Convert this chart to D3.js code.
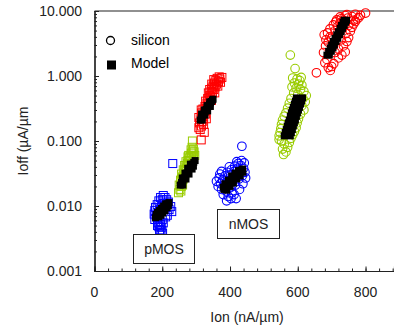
<!DOCTYPE html>
<html><head><meta charset="utf-8">
<script src="https://cdn.jsdelivr.net/npm/d3@7"></script>
<style>body{margin:0;background:#fff}svg{display:block;font-family:"Liberation Sans",Arial,sans-serif}</style>
</head><body><svg id="c" width="394" height="329"></svg>
<script>
// Tick values
const xTicks = [0, 200, 400, 600, 800];
const yTicks = [0.001, 0.01, 0.1, 1, 10];
const legendLabels = ["silicon", "Model"];
const groupLabels = ["pMOS", "nMOS"];

// pMOS silicon (squares) [Ion, Ioff]
const pBlueSi = [[176,0.0075],[178,0.0085],[180,0.0095],[183,0.0068],[185,0.0105],[188,0.0078],[190,0.012],[192,0.0088],[195,0.0135],[198,0.0098],[200,0.0125],[203,0.0145],[205,0.011],[208,0.0135],[210,0.0095],[213,0.0125],[215,0.0105],[218,0.0115],[220,0.0088],[225,0.0098],[228,0.0082],[215,0.0072],[210,0.0068],[200,0.0062],[193,0.0058],[186,0.0062],[182,0.0072],[188,0.0055],[195,0.0052],[190,0.0048],[197,0.0047],[192,0.0043],[199,0.0042],[194,0.0039],[201,0.0038],[186,0.005],[203,0.0055],[178,0.0062],[231,0.045]];
const pGreenSi = [[248,0.016],[252,0.018],[250,0.021],[256,0.02],[254,0.025],[258,0.023],[260,0.028],[262,0.026],[257,0.031],[264,0.032],[266,0.03],[262,0.036],[268,0.035],[270,0.04],[266,0.042],[272,0.038],[274,0.045],[270,0.048],[276,0.05],[278,0.044],[280,0.055],[282,0.05],[278,0.06],[284,0.058],[286,0.065],[288,0.06],[290,0.07],[292,0.075],[288,0.08],[294,0.068],[289,0.1],[285,0.073],[276,0.057],[255,0.017],[260,0.021],[296,0.06],[292,0.058]];
const pRedSi = [[308,0.16],[312,0.15],[316,0.17],[310,0.19],[318,0.2],[314,0.22],[320,0.24],[308,0.23],[322,0.18],[316,0.27],[324,0.28],[320,0.31],[328,0.26],[326,0.34],[330,0.32],[332,0.38],[328,0.41],[336,0.36],[334,0.45],[338,0.43],[340,0.5],[336,0.55],[342,0.48],[344,0.58],[340,0.62],[346,0.65],[348,0.55],[350,0.7],[346,0.75],[352,0.62],[354,0.78],[356,0.68],[358,0.85],[352,0.88],[360,0.75],[362,0.92],[366,0.82],[364,0.7],[370,0.9],[372,0.8],[376,0.95],[368,0.97],[345,0.42],[355,0.55],[322,0.22],[330,0.22],[315,0.3],[324,0.136],[315,0.104]];

// nMOS silicon (circles)
const nBlueSi = [[360,0.024],[365,0.02],[368,0.027],[372,0.022],[375,0.018],[370,0.031],[378,0.025],[380,0.015],[383,0.02],[385,0.029],[388,0.017],[390,0.023],[392,0.033],[395,0.014],[397,0.026],[400,0.019],[402,0.03],[404,0.036],[406,0.016],[408,0.024],[410,0.028],[412,0.034],[414,0.041],[416,0.021],[418,0.013],[420,0.03],[422,0.038],[424,0.045],[426,0.026],[428,0.018],[430,0.035],[432,0.042],[434,0.05],[436,0.029],[438,0.022],[440,0.038],[442,0.046],[444,0.033],[435,0.083],[398,0.04],[375,0.034],[412,0.015],[446,0.027],[420,0.048],[390,0.012],[403,0.013]];
const nGreenSi = [[578,2.1],[592,1.3],[585,0.93],[598,0.9],[606,0.85],[590,0.78],[602,0.75],[612,0.72],[595,0.65],[608,0.62],[618,0.58],[588,0.55],[600,0.52],[625,0.5],[615,0.45],[580,0.45],[622,0.4],[575,0.38],[612,0.35],[570,0.32],[618,0.3],[565,0.27],[608,0.26],[560,0.24],[602,0.22],[555,0.21],[598,0.19],[552,0.18],[595,0.16],[550,0.155],[590,0.14],[548,0.135],[585,0.125],[545,0.12],[580,0.11],[552,0.1],[575,0.095],[560,0.09],[570,0.08],[555,0.075],[565,0.068],[558,0.062],[545,0.105],[610,0.95],[583,0.68]];
const nRedSi = [[655,1.12],[696,1.22],[706,1.55],[690,1.35],[700,1.4],[680,1.6],[686,1.8],[740,2.35],[730,2.1],[676,2.3],[720,2.6],[735,2.9],[682,2.9],[745,3.4],[690,3.3],[728,3.6],[750,3.9],[700,3.8],[678,4.3],[688,4.6],[742,4.5],[755,4.9],[710,5.0],[695,5.3],[760,5.6],[718,5.8],[705,6.1],[765,6.3],[725,6.5],[770,6.9],[712,6.8],[735,7.2],[775,7.5],[748,7.8],[728,7.6],[760,8.2],[740,8.5],[785,8.6],[770,8.9],[800,9.3],[715,7.3],[695,4.0],[750,6.0],[730,5.2],[765,7.2],[780,7.9],[705,2.9],[745,8.8],[725,8.1],[683,3.6],[720,1.9],[710,2.3]];

// Model (filled black squares)
const pBlueModel = [[180,0.0066],[184,0.0070],[188,0.0074],[192,0.0078],[196,0.0083],[200,0.0088],[204,0.0093],[208,0.0098],[212,0.0103],[216,0.0108],[220,0.0113],[186,0.0080],[192,0.0086],[198,0.0092],[204,0.0100],[210,0.0108],[190,0.0068],[196,0.0072],[202,0.0078],[208,0.0085],[214,0.0094],[182,0.0074],[218,0.0100]];
const pGreenModel = [[253,0.021],[257,0.023],[261,0.025],[265,0.027],[269,0.030],[273,0.032],[277,0.035],[281,0.038],[285,0.041],[289,0.044],[293,0.047],[297,0.050],[259,0.027],[267,0.032],[275,0.038],[283,0.044],[261,0.021],[270,0.026],[279,0.031],[288,0.037],[292,0.041]];
const pRedModel = [[312,0.21],[315,0.225],[318,0.24],[321,0.255],[324,0.27],[327,0.29],[330,0.305],[333,0.325],[336,0.345],[339,0.365],[342,0.385],[345,0.405],[348,0.425],[350,0.44],[318,0.21],[326,0.25],[334,0.29],[342,0.34],[316,0.26],[324,0.3],[332,0.35],[340,0.4]];
const nBlueModel = [[382,0.018],[387,0.0195],[392,0.021],[397,0.0225],[402,0.024],[407,0.026],[412,0.028],[417,0.030],[422,0.032],[427,0.034],[432,0.0355],[437,0.037],[390,0.0175],[400,0.02],[410,0.0225],[420,0.026],[430,0.029],[385,0.022],[395,0.025],[405,0.029],[415,0.032],[425,0.035],[438,0.033],[380,0.0195]];
const nGreenModel = [[560,0.12],[578,0.12],[563,0.135],[581,0.135],[566,0.15],[584,0.15],[569,0.17],[587,0.17],[572,0.19],[590,0.19],[575,0.21],[593,0.21],[578,0.24],[596,0.24],[581,0.27],[599,0.27],[584,0.3],[602,0.3],[587,0.33],[605,0.33],[590,0.37],[608,0.37],[593,0.41],[611,0.41],[596,0.46],[614,0.46],[569,0.135],[575,0.16],[581,0.2],[587,0.25],[593,0.3],[599,0.36],[605,0.42]];
const nRedModel = [[686,2.1],[693,2.1],[691,2.4],[699,2.4],[696,2.7],[704,2.7],[700,3.0],[708,3.0],[705,3.4],[713,3.4],[710,3.8],[718,3.8],[715,4.3],[723,4.3],[720,4.8],[728,4.8],[725,5.4],[732,5.4],[729,6.0],[737,6.0],[734,6.7],[741,6.7],[737,7.2],[744,7.2]];

const colRed = "#ff0000", colGreen = "#99cc00", colBlue = "#0000ff";

const svg = d3.select("#c");
const x = d3.scaleLinear().domain([0, 884]).range([94.5, 394]);
const y = d3.scaleLog().domain([0.001, 10]).range([271, 11]);
const axisCol = "#222";

// Top frame line
svg.append("line").attr("x1", x(0)).attr("x2", 394).attr("y1", y(10)).attr("y2", y(10))
  .attr("stroke", axisCol).attr("stroke-width", 1.2);

// X axis (ticks inside)
const xMinor = d3.range(0, 885, 40);
const gx = svg.append("g").attr("transform", `translate(0,${y(0.001)})`);
gx.call(d3.axisTop(x).tickValues(xMinor).tickSize(2.5).tickFormat(""));
gx.append("g").call(d3.axisTop(x).tickValues(xTicks).tickSize(4.5).tickFormat(""));
gx.selectAll("path.domain").attr("stroke", axisCol).attr("stroke-width", 1.2);
gx.selectAll(".tick line").attr("stroke", axisCol);
gx.select("g").select("path.domain").remove();
svg.append("g").selectAll("text").data(xTicks).join("text")
  .attr("x", d => x(d)).attr("y", 297).attr("text-anchor", "middle")
  .attr("font-size", 14).attr("fill", "#222").text(d => d);

// Y axis
const yMinor = [];
[0.001, 0.01, 0.1, 1].forEach(b => { for (let k = 2; k <= 9; k++) yMinor.push(b * k); });
const gy = svg.append("g").attr("transform", `translate(${x(0)},0)`);
gy.call(d3.axisRight(y).tickValues(yMinor).tickSize(2.5).tickFormat(""));
gy.append("g").call(d3.axisRight(y).tickValues(yTicks).tickSize(4.5).tickFormat(""));
gy.selectAll("path.domain").attr("stroke", axisCol).attr("stroke-width", 1.2);
gy.selectAll(".tick line").attr("stroke", axisCol);
gy.select("g").select("path.domain").remove();
svg.append("g").selectAll("text").data(yTicks).join("text")
  .attr("x", 82).attr("y", d => y(d)).attr("dy", "0.36em").attr("text-anchor", "end")
  .attr("font-size", 14).attr("fill", "#222").text(d => d3.format(".3f")(d));

// Axis titles
svg.append("text").attr("x", 247).attr("y", 322).attr("text-anchor", "middle")
  .attr("font-size", 14).attr("fill", "#222").text("Ion (nA/µm)");
svg.append("text").attr("transform", "translate(28,141) rotate(-90)").attr("text-anchor", "middle")
  .attr("font-size", 14).attr("fill", "#222").text("Ioff (µA/µm");

// Plot marks
const sq = 8, msq = 7, rr = 4.3;
function squares(data, col) {
  svg.append("g").selectAll("rect").data(data).join("rect")
    .attr("x", d => x(d[0]) - sq / 2).attr("y", d => y(d[1]) - sq / 2)
    .attr("width", sq).attr("height", sq).attr("fill", "none")
    .attr("stroke", col).attr("stroke-width", 1);
}
function circles(data, col) {
  svg.append("g").selectAll("circle").data(data).join("circle")
    .attr("cx", d => x(d[0])).attr("cy", d => y(d[1])).attr("r", rr)
    .attr("fill", "none").attr("stroke", col).attr("stroke-width", 1.1);
}
function model(data) {
  svg.append("g").selectAll("rect").data(data).join("rect")
    .attr("x", d => x(d[0]) - msq / 2).attr("y", d => y(d[1]) - msq / 2)
    .attr("width", msq).attr("height", msq).attr("fill", "#000");
}
squares(pBlueSi, colBlue); squares(pGreenSi, colGreen); squares(pRedSi, colRed);
circles(nBlueSi, colBlue); circles(nGreenSi, colGreen); circles(nRedSi, colRed);
[pBlueModel, pGreenModel, pRedModel, nBlueModel, nGreenModel, nRedModel].forEach(model);

// Legend
svg.append("circle").attr("cx", 110.5).attr("cy", 40.5).attr("r", 4).attr("fill", "none")
  .attr("stroke", "#000").attr("stroke-width", 1.3);
svg.append("rect").attr("x", 107).attr("y", 60.5).attr("width", 9).attr("height", 9).attr("fill", "#000");
svg.append("g").selectAll("text").data(legendLabels).join("text")
  .attr("x", 131).attr("y", (d, i) => 45 + i * 23).attr("font-size", 14).attr("fill", "#000").text(d => d);

// Group label boxes
const boxes = [{x: 133, y: 234, w: 61, h: 29}, {x: 217, y: 209, w: 62, h: 29}];
groupLabels.forEach((t, i) => {
  const b = boxes[i];
  svg.append("rect").attr("x", b.x + 0.5).attr("y", b.y + 0.5).attr("width", b.w).attr("height", b.h)
    .attr("fill", "#fff").attr("stroke", "#222").attr("stroke-width", 1);
  svg.append("text").attr("x", b.x + b.w / 2 + 0.5).attr("y", b.y + 20).attr("text-anchor", "middle")
    .attr("font-size", 14).attr("fill", "#222").text(t);
});
</script></body></html>
